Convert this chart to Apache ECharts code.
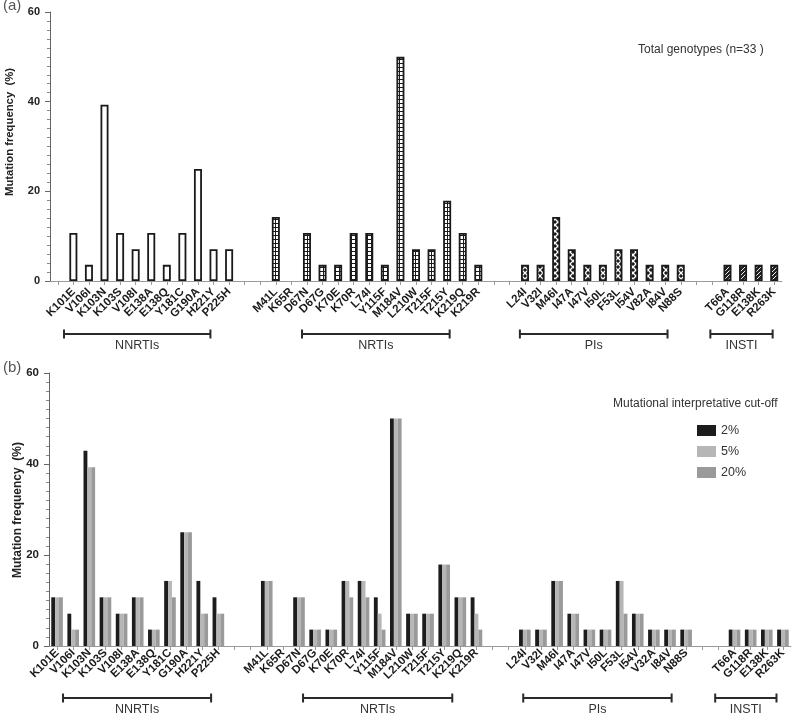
<!DOCTYPE html>
<html><head><meta charset="utf-8">
<script src="https://cdn.jsdelivr.net/npm/echarts@6/dist/echarts.min.js"></script>
<style>html,body{margin:0;padding:0;background:#fff}#c{width:792px;height:716px}</style>
</head><body><div id="c"></div>
<script>
// ---------- DATA ----------
const nnrtiLabels = ['K101E','V106I','K103N','K103S','V108I','E138A','E138Q','Y181C','G190A','H221Y','P225H'];
const nrtiLabels  = ['M41L','K65R','D67N','D67G','K70E','K70R','L74I','Y115F','M184V','L210W','T215F','T215Y','K219Q','K219R'];
const piLabelsTop = ['L24I','V32I','M46I','I47A','I47V','I50L','F53L','I54V','V82A','I84V','N88S'];
const piLabelsBottom = ['L24I','V32I','M46I','I47A','I47V','I50L','F53L','I54V','V32A','I84V','N88S'];
const instiLabels = ['T66A','G118R','E138K','R263K'];

// (a) total genotypes (%)
const totalNNRTI = [10.7,3.6,39.3,10.7,7.1,10.7,3.6,10.7,25,7.1,7.1];
const totalNRTI  = [14.3,0,10.7,3.6,3.6,10.7,10.7,3.6,50,7.1,7.1,17.9,10.7,3.6];
const totalPI    = [3.6,3.6,14.3,7.1,3.6,3.6,7.1,7.1,3.6,3.6,3.6];
const totalINSTI = [3.6,3.6,3.6,3.6];

// (b) by interpretative cut-off (%), order NNRTI | NRTI | PI | INSTI
const cut2NNRTI  = [10.7,7.1,42.9,10.7,7.1,10.7,3.6,14.3,25,14.3,10.7];
const cut5NNRTI  = [10.7,3.6,39.3,10.7,7.1,10.7,3.6,14.3,25,7.1,7.1];
const cut20NNRTI = [10.7,3.6,39.3,10.7,7.1,10.7,3.6,10.7,25,7.1,7.1];
const cut2NRTI   = [14.3,0,10.7,3.6,3.6,14.3,14.3,10.7,50,7.1,7.1,17.9,10.7,10.7];
const cut5NRTI   = [14.3,0,10.7,3.6,3.6,14.3,14.3,7.1,50,7.1,7.1,17.9,10.7,7.1];
const cut20NRTI  = [14.3,0,10.7,3.6,3.6,10.7,10.7,3.6,50,7.1,7.1,17.9,10.7,3.6];
const cut2PI     = [3.6,3.6,14.3,7.1,3.6,3.6,14.3,7.1,3.6,3.6,3.6];
const cut5PI     = [3.6,3.6,14.3,7.1,3.6,3.6,14.3,7.1,3.6,3.6,3.6];
const cut20PI    = [3.6,3.6,14.3,7.1,3.6,3.6,7.1,7.1,3.6,3.6,3.6];
const cut2INSTI  = [3.6,3.6,3.6,3.6];
const cut5INSTI  = [3.6,3.6,3.6,3.6];
const cut20INSTI = [3.6,3.6,3.6,3.6];

const seriesNames = ['2%','5%','20%'];
const groupNames = ['NNRTIs','NRTIs','PIs','INSTI'];
const yTicks = [0,20,40,60];

// ---------- STYLE / LAYOUT ----------
const FONT = "'Liberation Sans', Arial, sans-serif";
const GAP = 2; // empty slots between drug classes
// bracket spans in slot units relative to the first mutation of each class
const bracketTop = [[-0.6,8.8],[1.68,11.16],[-0.33,9.15],[-1.1,2.9]];
const bracketBot = [[0.37,9.55],[2.25,11.5],[-0.1,9.1],[-1.2,2.6]];

function tile(w,h,draw){const c=document.createElement('canvas');c.width=w;c.height=h;const g=c.getContext('2d');draw(g,w,h);return c;}
const patGrid = {image: tile(4,4,(g)=>{g.fillStyle='#1a1a1a';g.fillRect(0,0,4,4);g.fillStyle='#fff';g.fillRect(0,0,3,3);}), repeat:'repeat'};
const patCross = {image: tile(6,6,(g)=>{g.fillStyle='#1a1a1a';g.fillRect(0,0,6,6);g.strokeStyle='#fff';g.lineWidth=1.3;g.beginPath();g.moveTo(0,0);g.lineTo(6,6);g.moveTo(6,0);g.lineTo(0,6);g.stroke();}), repeat:'repeat'};
const patDiag = {image: tile(4,4,(g)=>{g.fillStyle='#222';g.fillRect(0,0,4,4);g.strokeStyle='#eee';g.lineWidth=1;g.beginPath();g.moveTo(-1,5);g.lineTo(5,-1);g.stroke();}), repeat:'repeat'};
const groupFill = ['#ffffff', patGrid, patCross, patDiag];

// ---------- BUILD CATEGORIES ----------
let blankN = 0;
function blank(){ blankN++; return ' '.repeat(blankN); }
function buildCats(groups, leading){
  const cats = []; const starts = [];
  if (leading) cats.push(blank());
  groups.forEach((g,gi)=>{
    if (gi>0) for(let k=0;k<GAP;k++) cats.push(blank());
    starts.push(cats.length);
    g.forEach(l=>cats.push(l));
  });
  return {cats, starts};
}
function buildVals(groups, leading, mapFn){
  const out = [];
  if (leading) out.push('-');
  groups.forEach((g,gi)=>{
    if (gi>0) for(let k=0;k<GAP;k++) out.push('-');
    g.forEach((v)=>out.push(mapFn ? mapFn(v,gi) : v));
  });
  return out;
}

const topCats = buildCats([nnrtiLabels,nrtiLabels,piLabelsTop,instiLabels], true);
const botCats = buildCats([nnrtiLabels,nrtiLabels,piLabelsBottom,instiLabels], false);

const topData = buildVals([totalNNRTI,totalNRTI,totalPI,totalINSTI], true, (v,gi)=>({
  value: v,
  itemStyle: {color: groupFill[gi], borderColor:'#1a1a1a', borderWidth: v>0?1.8:0}
}));
const cut2 = buildVals([cut2NNRTI,cut2NRTI,cut2PI,cut2INSTI], false);
const cut5 = buildVals([cut5NNRTI,cut5NRTI,cut5PI,cut5INSTI], false);
const cut20 = buildVals([cut20NNRTI,cut20NRTI,cut20PI,cut20INSTI], false);

function makeY(gi, lblSize){
  return {
    type:'value', gridIndex: gi, min: yTicks[0], max: yTicks[yTicks.length-1], interval: yTicks[1]-yTicks[0],
    axisLine:{show:true, lineStyle:{color:'#666', width:1}},
    axisTick:{show:true, length:5, lineStyle:{color:'#666'}},
    minorTick:{show:true, splitNumber:10, length:3, lineStyle:{color:'#888'}},
    splitLine:{show:false},
    axisLabel:{fontFamily:FONT, fontWeight:'bold', fontSize:lblSize, color:'#222', margin:10}
  };
}
function makeX(gi, cats, margin){
  return {
    type:'category', gridIndex: gi, data: cats,
    axisLine:{show:true, lineStyle:{color:'#9a9a9a', width:1}},
    axisTick:{show:true, alignWithLabel:true, interval:0, length:4, lineStyle:{color:'#9a9a9a'}},
    axisLabel:{interval:0, rotate:45, fontFamily:FONT, fontWeight:'bold', fontSize:11.5, color:'#1a1a1a', margin: margin},
    splitLine:{show:false}
  };
}

const chart = echarts.init(document.getElementById('c'), null, {renderer:'canvas'});
const colors = ['#1c1c1c','#b6b6b6','#9a9a9a'];
chart.setOption({
  animation:false,
  textStyle:{fontFamily:FONT},
  grid:[
    {left:50, top:12, width:732, height:269},
    {left:49, top:373, width:742, height:273}
  ],
  xAxis:[makeX(0, topCats.cats, 9), makeX(1, botCats.cats, 5)],
  yAxis:[makeY(0, 11), makeY(1, 11.5)],
  legend:{
    data: seriesNames, orient:'vertical', left:692, top:419,
    itemWidth:19, itemHeight:11, itemGap:8, icon:'rect',
    textStyle:{fontFamily:FONT, fontSize:12.5, color:'#333'}
  },
  series:[
    {type:'bar', name:'total', xAxisIndex:0, yAxisIndex:0, data: topData, barWidth:8},
    {type:'bar', name:seriesNames[0], xAxisIndex:1, yAxisIndex:1, data:cut2, itemStyle:{color:colors[0]}, barGap:'0%', barCategoryGap:'28%'},
    {type:'bar', name:seriesNames[1], xAxisIndex:1, yAxisIndex:1, data:cut5, itemStyle:{color:colors[1]}, barGap:'0%', barCategoryGap:'28%'},
    {type:'bar', name:seriesNames[2], xAxisIndex:1, yAxisIndex:1, data:cut20, itemStyle:{color:colors[2]}, barGap:'0%', barCategoryGap:'28%'}
  ]
});

// ---------- ANNOTATIONS (computed from the axes) ----------
function slotPx(axisIdx, i){
  const a = chart.convertToPixel({xAxisIndex:axisIdx}, 0);
  const b = chart.convertToPixel({xAxisIndex:axisIdx}, 1);
  return a + (b-a)*i;
}
function brackets(axisIdx, starts, spans, yLine, yText){
  const els = [];
  spans.forEach((sp,gi)=>{
    const x1 = slotPx(axisIdx, starts[gi]+sp[0]);
    const x2 = slotPx(axisIdx, starts[gi]+sp[1]);
    const ls = {stroke:'#2a2a2a', lineWidth:2};
    els.push({type:'line', shape:{x1:x1,y1:yLine,x2:x2,y2:yLine}, style:ls, silent:true});
    els.push({type:'line', shape:{x1:x1,y1:yLine-4.5,x2:x1,y2:yLine+4.5}, style:ls, silent:true});
    els.push({type:'line', shape:{x1:x2,y1:yLine-4.5,x2:x2,y2:yLine+4.5}, style:ls, silent:true});
    els.push({type:'text', x:(x1+x2)/2, y:yText, style:{text:groupNames[gi], textAlign:'center', textVerticalAlign:'top', fontFamily:FONT, fontSize:12.5, fill:'#333'}, silent:true});
  });
  return els;
}
const yTopZero = chart.convertToPixel({yAxisIndex:0}, 0);
const yBotZero = chart.convertToPixel({yAxisIndex:1}, 0);
const graphics = []
  .concat(brackets(0, topCats.starts, bracketTop, yTopZero+53, yTopZero+58))
  .concat(brackets(1, botCats.starts, bracketBot, yBotZero+52, yBotZero+57))
  .concat([
    {type:'text', x:3, y:-2, style:{text:'(a)', fontFamily:FONT, fontSize:15, fill:'#555'}},
    {type:'text', x:3, y:360, style:{text:'(b)', fontFamily:FONT, fontSize:15, fill:'#555'}},
    {type:'text', x:10, y:132, rotation:Math.PI/2, style:{text:'Mutation frequency  (%)', textAlign:'center', textVerticalAlign:'middle', fontFamily:FONT, fontWeight:'bold', fontSize:11.3, fill:'#222'}},
    {type:'text', x:18, y:510, rotation:Math.PI/2, style:{text:'Mutation frequency  (%)', textAlign:'center', textVerticalAlign:'middle', fontFamily:FONT, fontWeight:'bold', fontSize:12, fill:'#222'}},
    {type:'text', x:638, y:50, style:{text:'Total genotypes (n=33 )', textVerticalAlign:'middle', fontFamily:FONT, fontSize:12, fill:'#333'}},
    {type:'text', x:613, y:404, style:{text:'Mutational interpretative cut-off', textVerticalAlign:'middle', fontFamily:FONT, fontSize:12, fill:'#333'}}
  ]);
chart.setOption({graphic: graphics});
</script>
</body></html>
